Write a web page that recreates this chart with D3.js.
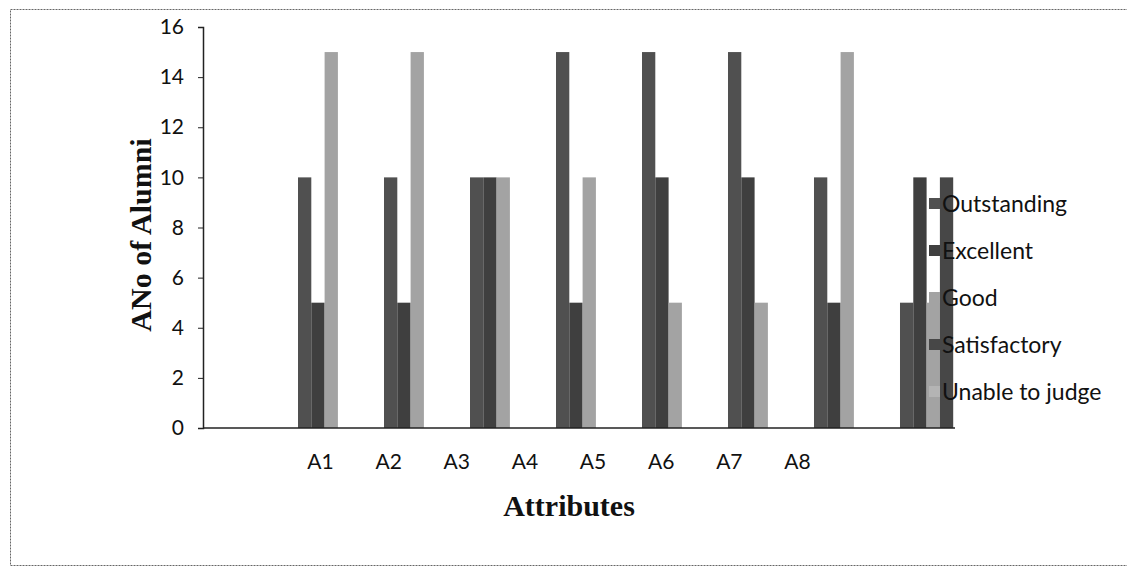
<!DOCTYPE html>
<html>
<head>
<meta charset="utf-8">
<script src="https://cdn.jsdelivr.net/npm/d3@7"></script>
<style>
  html, body { margin: 0; padding: 0; background: #fff; }
  svg { display: block; }
</style>
</head>
<body>
<svg id="chart" width="1127" height="577"></svg>
<script>
// ---- data ----
const categories = ["A1", "A2", "A3", "A4", "A5", "A6", "A7", "A8"];
const seriesNames = ["Outstanding", "Excellent", "Good", "Satisfactory", "Unable to judge"];
const outstanding   = [10, 10, 10, 15, 15, 15, 10, 5];
const excellent     = [5, 5, 10, 5, 10, 10, 5, 10];
const good          = [15, 15, 10, 10, 5, 5, 15, 5];
const satisfactory  = [0, 0, 0, 0, 0, 0, 0, 10];
const unableToJudge = [0, 0, 0, 0, 0, 0, 0, 0];
const yTicks = [0, 2, 4, 6, 8, 10, 12, 14, 16];
const yTitle = "ANo of Alumni";
const xTitle = "Attributes";

const seriesValues = [outstanding, excellent, good, satisfactory, unableToJudge];
const colors = ["#505050", "#3f3f3f", "#a3a3a3", "#474747", "#b4b4b4"];

const svg = d3.select("#chart");

// outer frame
svg.append("rect")
  .attr("x", 10.5).attr("y", 9.5).attr("width", 1130).attr("height", 556)
  .attr("fill", "none").attr("stroke", "#666").attr("stroke-width", 1)
  .attr("stroke-dasharray", "2,1");

const y = d3.scaleLinear().domain([0, 16]).range([428, 27]);

// bar groups
const x0 = d3.scaleBand().domain(categories).range([298, 966.5])
  .paddingInner(0.2267).paddingOuter(0);
const x1 = d3.scaleBand().domain(seriesNames).range([0, x0.bandwidth()]);
// category label positions
const xl = d3.scalePoint().domain(categories).range([320, 797]);

const groups = svg.append("g").selectAll("g")
  .data(categories).join("g")
  .attr("transform", d => `translate(${x0(d)},0)`);

groups.selectAll("rect")
  .data((c, i) => seriesNames.map((s, k) => ({ s, k, v: seriesValues[k][i] })))
  .join("rect")
  .attr("x", d => x1(d.s))
  .attr("y", d => y(d.v))
  .attr("width", x1.bandwidth())
  .attr("height", d => y(0) - y(d.v))
  .attr("fill", d => colors[d.k]);

// y axis
const yAxis = d3.axisLeft(y).tickValues(yTicks).tickSize(5).tickPadding(14);
const gy = svg.append("g").attr("transform", "translate(203,0)").call(yAxis);
gy.select(".domain").attr("stroke", "#222").attr("stroke-width", 1.5);
gy.selectAll(".tick line").attr("stroke", "#222");
gy.selectAll(".tick text")
  .attr("font-family", "Lato, 'Open Sans', sans-serif")
  .attr("font-size", 21).attr("fill", "#111");

// x axis line
svg.append("line")
  .attr("x1", 203).attr("x2", 955).attr("y1", y(0)).attr("y2", y(0))
  .attr("stroke", "#222").attr("stroke-width", 1.5);

// x labels
const xAxis = d3.axisBottom(xl).tickSize(0).tickPadding(0);
const gx = svg.append("g").attr("transform", `translate(0,${y(0)})`).call(xAxis);
gx.select(".domain").remove();
gx.selectAll(".tick text")
  .attr("y", 34).attr("dy", "0.35em")
  .attr("font-family", "Lato, 'Open Sans', sans-serif")
  .attr("font-size", 21).attr("fill", "#111");

// titles
svg.append("text")
  .attr("transform", "translate(140,235) rotate(-90)")
  .attr("text-anchor", "middle").attr("dy", "0.35em")
  .attr("font-family", "'Liberation Serif', 'Times New Roman', serif")
  .attr("font-weight", "bold").attr("font-size", 30).attr("fill", "#111")
  .text(yTitle);

svg.append("text")
  .attr("x", 569).attr("y", 505).attr("dy", "0.35em")
  .attr("text-anchor", "middle")
  .attr("font-family", "'Liberation Serif', 'Times New Roman', serif")
  .attr("font-weight", "bold").attr("font-size", 30).attr("fill", "#111")
  .text(xTitle);

// legend
const legend = svg.append("g").selectAll("g")
  .data(seriesNames).join("g")
  .attr("transform", (d, i) => `translate(929,${204 + i * 47})`);
legend.append("rect")
  .attr("x", 0).attr("y", -6).attr("width", 11).attr("height", 11)
  .attr("fill", (d, i) => colors[i]);
legend.append("text")
  .attr("x", 13).attr("y", 0).attr("dy", "0.35em")
  .attr("font-family", "Lato, 'Open Sans', sans-serif")
  .attr("font-size", 23).attr("fill", "#111")
  .text(d => d);
</script>
</body>
</html>
